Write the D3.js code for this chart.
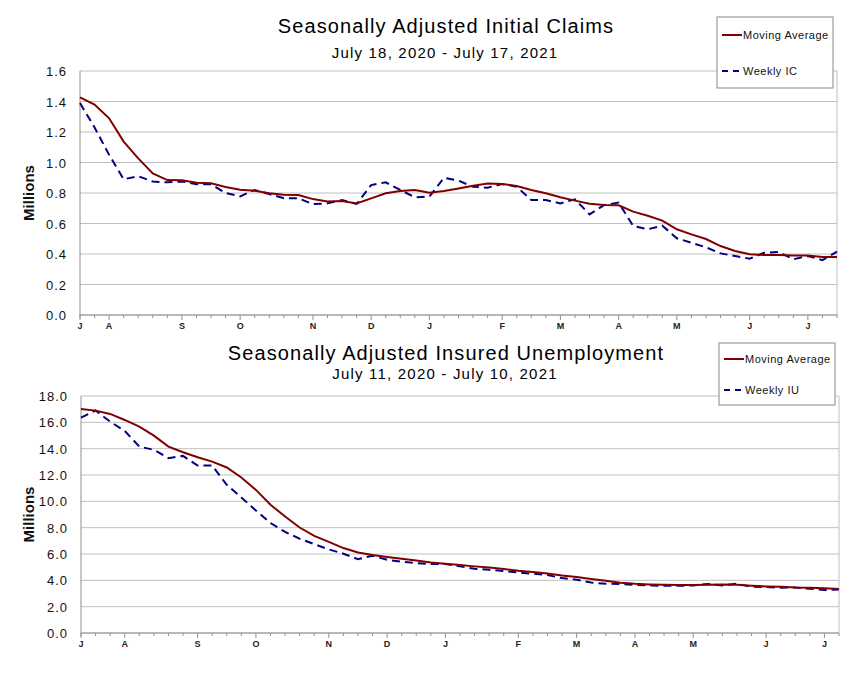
<!DOCTYPE html>
<html>
<head>
<meta charset="utf-8">
<script src="https://cdn.jsdelivr.net/npm/d3@7"></script>
<style>
  body { margin: 0; background: #fff; }
  svg { font-family: "Liberation Sans", Arial, sans-serif; }
</style>
</head>
<body>
<div id="chart"></div>
<script>
// values in millions
const claimsStart = "2020-07-18";
const claimsMA = [1.427, 1.38, 1.29, 1.137, 1.027, 0.929, 0.885, 0.883, 0.868, 0.864,
    0.84, 0.822, 0.815, 0.798, 0.789, 0.787, 0.76, 0.745, 0.748, 0.732,
    0.765, 0.798, 0.813, 0.82, 0.802, 0.813, 0.83, 0.848, 0.863, 0.859,
    0.846, 0.82, 0.798, 0.772, 0.75, 0.73, 0.721, 0.719, 0.678, 0.651,
    0.619, 0.562, 0.529, 0.498, 0.452, 0.42, 0.398, 0.393, 0.393, 0.39,
    0.39, 0.38, 0.38];
const claimsWeekly = [1.39, 1.23, 1.05, 0.89, 0.91, 0.875, 0.87, 0.876, 0.857, 0.857,
    0.80, 0.778, 0.82, 0.793, 0.766, 0.765, 0.727, 0.732, 0.754, 0.728,
    0.852, 0.87, 0.82, 0.772, 0.776, 0.90, 0.881, 0.841, 0.835, 0.859,
    0.841, 0.754, 0.754, 0.732, 0.759, 0.66, 0.721, 0.737, 0.584, 0.562,
    0.586, 0.503, 0.474, 0.444, 0.404, 0.387, 0.369, 0.408, 0.413, 0.365,
    0.387, 0.36, 0.415];
const claimsTicks = [0, 0.2, 0.4, 0.6, 0.8, 1.0, 1.2, 1.4, 1.6];

const insuredStart = "2020-07-11";
const insuredMA = [17.02, 16.89, 16.64, 16.18, 15.68, 14.99, 14.16, 13.73, 13.35, 13.02,
    12.57, 11.81, 10.87, 9.74, 8.85, 8.01, 7.38, 6.92, 6.45, 6.12,
    5.92, 5.77, 5.64, 5.51, 5.36, 5.26, 5.16, 5.06, 4.98, 4.86,
    4.73, 4.63, 4.52, 4.37, 4.25, 4.11, 3.97, 3.82, 3.74, 3.69,
    3.66, 3.64, 3.64, 3.66, 3.69, 3.66, 3.59, 3.54, 3.51, 3.46,
    3.44, 3.39, 3.34];
const insuredWeekly = [16.36, 16.9, 16.05, 15.35, 14.16, 13.91, 13.28, 13.45, 12.72, 12.72,
    11.25, 10.3, 9.3, 8.35, 7.68, 7.16, 6.75, 6.35, 6.02, 5.61,
    5.87, 5.56, 5.41, 5.31, 5.24, 5.24, 5.06, 4.88, 4.80, 4.70,
    4.60, 4.50, 4.40, 4.17, 4.05, 3.83, 3.74, 3.72, 3.66, 3.61,
    3.59, 3.59, 3.61, 3.72, 3.61, 3.74, 3.51, 3.49, 3.44, 3.46,
    3.36, 3.26, 3.31];
const insuredTicks = [0, 2, 4, 6, 8, 10, 12, 14, 16, 18];

const maColor = "#800000";
const weeklyColor = "#000080";
const gridColor = "#c0c0c0";

const svg = d3.select("#chart").append("svg")
    .attr("width", 859)
    .attr("height", 674);

const weekDates = (start, n) => {
    const first = d3.timeParse("%Y-%m-%d")(start);
    return d3.range(n).map(i => d3.timeDay.offset(first, 7 * i));
};

function drawPanel(opt) {
    const dates = weekDates(opt.start, opt.ma.length);
    const x = d3.scaleTime()
        .domain(d3.extent(dates))
        .range([opt.left, opt.right]);
    const y = d3.scaleLinear()
        .domain([0, d3.max(opt.ticks)])
        .range([opt.bottom, opt.top]);

    const g = svg.append("g");

    // horizontal grid
    g.selectAll(".grid").data(opt.ticks).enter().append("line")
        .attr("x1", opt.left).attr("x2", opt.right)
        .attr("y1", d => y(d)).attr("y2", d => y(d))
        .attr("stroke", gridColor).attr("stroke-width", 1);

    // frame sides
    g.append("line")
        .attr("x1", opt.right).attr("x2", opt.right)
        .attr("y1", opt.top).attr("y2", opt.bottom)
        .attr("stroke", gridColor);
    g.append("line")
        .attr("x1", opt.left).attr("x2", opt.left)
        .attr("y1", opt.top).attr("y2", opt.bottom + 3)
        .attr("stroke", "#909090");
    g.append("line")
        .attr("x1", opt.left).attr("x2", opt.right)
        .attr("y1", opt.bottom).attr("y2", opt.bottom)
        .attr("stroke", "#909090");

    // y labels
    g.selectAll(".ylab").data(opt.ticks).enter().append("text")
        .attr("x", opt.left - 13)
        .attr("y", d => y(d) + 5)
        .attr("text-anchor", "end")
        .attr("font-size", 13)
        .attr("letter-spacing", 1)
        .attr("fill", "#111")
        .text(d => d3.format(".1f")(d));

    // weekly ticks, month letter at the first week of each month
    const monthStart = dates.filter((d, i) => i === 0 || d.getMonth() !== dates[i - 1].getMonth());
    g.selectAll(".wtick").data(dates).enter().append("line")
        .attr("x1", d => x(d)).attr("x2", d => x(d))
        .attr("y1", opt.bottom).attr("y2", d => opt.bottom + (monthStart.includes(d) ? 5 : 3))
        .attr("stroke", "#909090");
    g.selectAll(".xlab").data(monthStart).enter().append("text")
        .attr("x", d => x(d))
        .attr("y", opt.bottom + 14)
        .attr("text-anchor", "middle")
        .attr("font-size", 9)
        .attr("font-weight", "bold")
        .attr("fill", "#222")
        .text(d => d3.timeFormat("%B")(d)[0]);

    // lines
    const line = d3.line()
        .x((d, i) => x(dates[i]))
        .y(d => y(d));
    g.append("path").datum(opt.weekly)
        .attr("d", line)
        .attr("fill", "none")
        .attr("stroke", weeklyColor)
        .attr("stroke-width", 2)
        .attr("stroke-dasharray", "8,5");
    g.append("path").datum(opt.ma)
        .attr("d", line)
        .attr("fill", "none")
        .attr("stroke", maColor)
        .attr("stroke-width", 2);

    // titles
    g.append("text")
        .attr("x", 446).attr("y", opt.titleY)
        .attr("text-anchor", "middle")
        .attr("font-size", 20)
        .attr("letter-spacing", 1.1)
        .attr("fill", "#000")
        .text(opt.title);
    g.append("text")
        .attr("x", 445).attr("y", opt.subY)
        .attr("text-anchor", "middle")
        .attr("font-size", 15)
        .attr("letter-spacing", 1.2)
        .attr("fill", "#000")
        .text(opt.subtitle);

    // y title
    g.append("text")
        .attr("transform", `translate(34,${(opt.top + opt.bottom) / 2}) rotate(-90)`)
        .attr("text-anchor", "middle")
        .attr("font-size", 15)
        .attr("font-weight", "bold")
        .attr("fill", "#111")
        .text("Millions");

    // legend
    const lg = g.append("g").attr("transform", `translate(${opt.legend[0]},${opt.legend[1]})`);
    lg.append("rect")
        .attr("width", 116).attr("height", opt.legend[2])
        .attr("fill", "#fff")
        .attr("stroke", "#888");
    const items = [
        { label: "Moving Average", color: maColor, dash: null, y: opt.legend[3] },
        { label: opt.weeklyLabel, color: weeklyColor, dash: "6,5", y: opt.legend[4] }
    ];
    items.forEach(it => {
        lg.append("line")
            .attr("x1", 5).attr("x2", 25)
            .attr("y1", it.y).attr("y2", it.y)
            .attr("stroke", it.color)
            .attr("stroke-width", 2)
            .attr("stroke-dasharray", it.dash);
        lg.append("text")
            .attr("x", 26).attr("y", it.y + 4)
            .attr("font-size", 11)
            .attr("letter-spacing", 0.5)
            .attr("fill", "#111")
            .text(it.label);
    });
}

drawPanel({
    start: claimsStart, ma: claimsMA, weekly: claimsWeekly, ticks: claimsTicks,
    left: 80, right: 837, top: 71, bottom: 315,
    title: "Seasonally Adjusted Initial Claims",
    subtitle: "July 18, 2020 - July 17, 2021",
    titleY: 33, subY: 58,
    weeklyLabel: "Weekly IC",
    legend: [717, 17, 71, 18, 54]
});

drawPanel({
    start: insuredStart, ma: insuredMA, weekly: insuredWeekly, ticks: insuredTicks,
    left: 81, right: 839, top: 396, bottom: 633,
    title: "Seasonally Adjusted Insured Unemployment",
    subtitle: "July 11, 2020 - July 10, 2021",
    titleY: 360, subY: 379,
    weeklyLabel: "Weekly IU",
    legend: [719, 343, 62, 16, 47]
});
</script>
</body>
</html>
